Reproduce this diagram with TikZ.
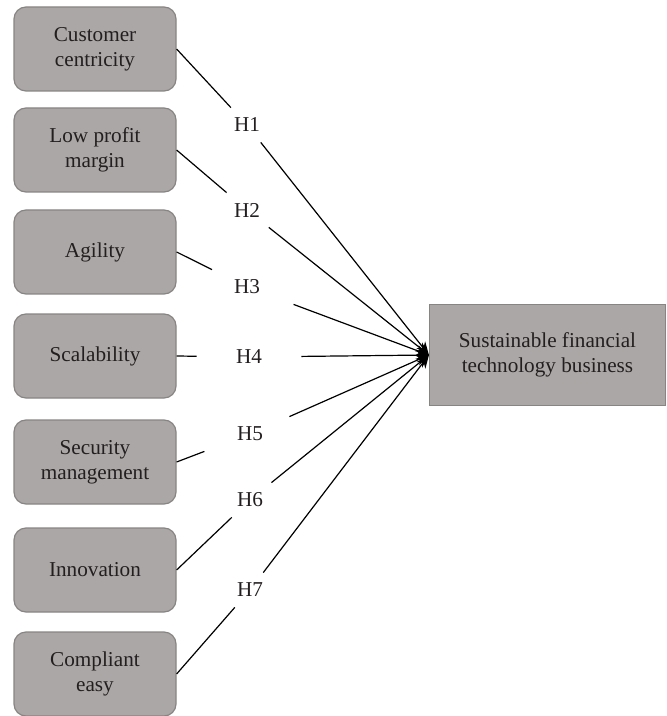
\documentclass[tikz,border=0pt]{standalone}
\usepackage{fontspec}
\setmainfont{Liberation Serif}
\usetikzlibrary{arrows.meta}
\definecolor{boxfill}{RGB}{171,167,166}
\definecolor{boxline}{RGB}{135,133,132}
\definecolor{txt}{RGB}{35,31,32}
\begin{document}
\begin{tikzpicture}[x=0.5pt,y=-0.5pt,
  font=\fontsize{10.6}{12.5}\selectfont,
  factor/.style={draw=boxline, line width=0.6pt, fill=boxfill, rounded corners=6pt,
    minimum width=81pt, minimum height=42pt, align=center, inner sep=0pt, text=txt},
  outcome/.style={draw=boxline, line width=0.6pt, fill=boxfill,
    minimum width=118pt, minimum height=50.5pt, align=center, inner sep=0pt, text=txt},
  hyp/.style={minimum width=52pt, minimum height=17pt, inner sep=0pt, text=txt},
  link/.style={line width=0.6pt, -{Stealth[length=6.5pt,width=5.5pt]}}]
\useasboundingbox (0,0) rectangle (666,716);
\node[factor] (f1) at (95,49) {Customer\\centricity};
\node[factor] (f2) at (95,150) {Low profit\\margin};
\node[factor] (f3) at (95,252) {Agility};
\node[factor] (f4) at (95,356) {Scalability};
\node[factor] (f5) at (95,462) {Security\\management};
\node[factor] (f6) at (95,570) {Innovation};
\node[factor] (f7) at (95,674) {Compliant\\easy};
\node[outcome] (T) at (547.5,355) {Sustainable financial\\technology business};
\node[hyp] (h1) at (247,125) {H1};
\node[hyp] (h2) at (247,210) {H2};
\node[hyp] (h3) at (247,287) {H3};
\node[hyp] (h4) at (249,357) {H4};
\node[hyp] (h5) at (250,434) {H5};
\node[hyp] (h6) at (250,500) {H6};
\node[hyp] (h7) at (250,590) {H7};
\foreach \i in {1,...,7}{
  \draw[link] (f\i.east) -- (h\i) -- (T.west);
}
\end{tikzpicture}
\end{document}
